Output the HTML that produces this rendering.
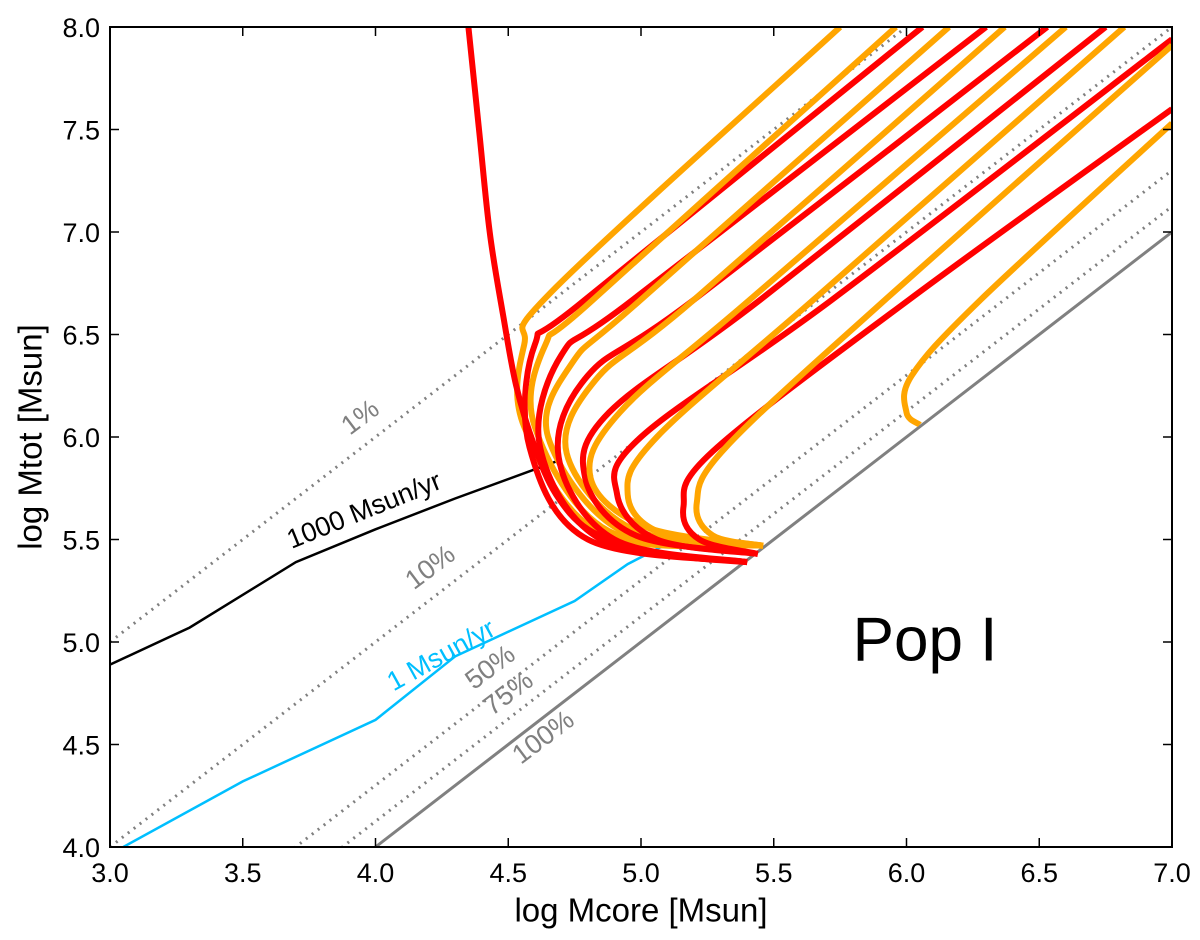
<!DOCTYPE html>
<html><head><meta charset="utf-8"><style>
html,body{margin:0;padding:0;background:#fff;overflow:hidden;width:1200px;height:940px;}
svg{display:block;overflow:hidden;font-family:"Liberation Sans","DejaVu Sans",sans-serif;}
</style></head><body>
<svg id="chart" width="1200" height="940" viewBox="0 0 1200 940">
<defs><clipPath id="pc"><rect x="110" y="27" width="1062" height="820"/></clipPath></defs>
<g id="plot" clip-path="url(#pc)"></g>
<g id="ann"></g>
<g id="axes"></g>
</svg>
<script>
const xTicks=[3.0,3.5,4.0,4.5,5.0,5.5,6.0,6.5,7.0];
const yTicks=[4.0,4.5,5.0,5.5,6.0,6.5,7.0,7.5,8.0];
const fractions=[0.01,0.1,0.5,0.75];
const fracLabels=["1%","10%","50%","75%"];
const rate1000=[[3.0,4.89],[3.3,5.07],[3.7,5.39],[4.0,5.55],[4.3,5.70],[4.68,5.88]];
const rate1=[[3.05,4.0],[3.5,4.32],[4.0,4.62],[4.3,4.93],[4.75,5.20],[4.95,5.38],[5.1,5.48]];
const envelope=[[4.35,8.0],[4.39,7.5],[4.43,7.0],[4.48,6.6],[4.53,6.25],[4.6,5.95],[4.68,5.72],[4.8,5.55],[5.0,5.45],[5.2,5.41],[5.40,5.39]];
const redTracks=[
 [[5.40,5.39],[4.8,5.5],[4.58,5.95],[4.6,6.45],[4.79,6.67],[6.06,8.0]],
 [[5.40,5.39],[4.85,5.5],[4.62,5.95],[4.7,6.4],[4.97,6.67],[6.30,8.0]],
 [[5.40,5.39],[4.9,5.5],[4.69,5.9],[4.8,6.3],[5.2,6.67],[6.53,8.0]],
 [[5.44,5.43],[4.98,5.52],[4.79,5.8],[4.88,6.12],[5.45,6.67],[6.75,8.0]],
 [[5.44,5.43],[5.06,5.5],[4.91,5.72],[5.0,6.0],[5.72,6.67],[7.0,7.94]],
 [[5.44,5.43],[5.22,5.5],[5.16,5.66],[5.27,5.93],[6.01,6.67],[7.0,7.60]]
];
const orangeTracks=[
 [[5.46,5.47],[4.85,5.53],[4.56,6.05],[4.56,6.45],[4.68,6.73],[5.75,8.0]],
 [[5.46,5.47],[4.88,5.54],[4.6,6.05],[4.64,6.45],[4.82,6.67],[5.96,8.0]],
 [[5.46,5.47],[4.93,5.54],[4.65,6.0],[4.74,6.36],[5.0,6.67],[6.16,8.0]],
 [[5.46,5.47],[4.97,5.55],[4.72,5.92],[4.83,6.28],[5.2,6.67],[6.37,8.0]],
 [[5.46,5.47],[5.02,5.56],[4.81,5.8],[4.92,6.12],[5.41,6.67],[6.60,8.0]],
 [[5.46,5.47],[5.08,5.53],[4.95,5.72],[5.06,6.0],[5.65,6.67],[6.82,8.0]],
 [[5.46,5.47],[5.27,5.52],[5.21,5.68],[5.32,5.95],[5.92,6.67],[7.0,7.91]],
 [[6.05,6.06],[6.0,6.12],[6.02,6.3],[6.28,6.67],[7.0,7.53]]
];
const X0=110,X1=1172,Y0=847,Y1=27;
function sx(v){return X0+(v-3)/(7-3)*(X1-X0);}
function sy(v){return Y0-(v-4)/(8-4)*(Y0-Y1);}
const NS="http://www.w3.org/2000/svg";
function mk(tag,parent,attrs){const e=document.createElementNS(NS,tag);for(const k in attrs)e.setAttribute(k,attrs[k]);parent.appendChild(e);return e;}
function smooth(pts){
 const p=pts.map(d=>[sx(d[0]),sy(d[1])]);
 let s="M"+p[0][0].toFixed(1)+","+p[0][1].toFixed(1);
 for(let i=0;i<p.length-1;i++){
  const p0=p[i-1]||p[i],p1=p[i],p2=p[i+1],p3=p[i+2]||p2;
  const c1=[p1[0]+(p2[0]-p0[0])/6,p1[1]+(p2[1]-p0[1])/6];
  const c2=[p2[0]-(p3[0]-p1[0])/6,p2[1]-(p3[1]-p1[1])/6];
  s+=" C"+c1.map(v=>v.toFixed(1)).join(",")+" "+c2.map(v=>v.toFixed(1)).join(",")+" "+p2.map(v=>v.toFixed(1)).join(",");
 }
 return s;
}
function poly(pts){return pts.map((d,i)=>(i?"L":"M")+sx(d[0]).toFixed(1)+","+sy(d[1]).toFixed(1)).join(" ");}
const plot=document.getElementById('plot');
fractions.forEach((f,i)=>{
 const off=Math.log10(1/f);
 const e=mk('line',plot,{x1:sx(3),y1:sy(3+off),x2:sx(7),y2:sy(7+off),stroke:'#808080','stroke-width':3,'stroke-dasharray':'2,5.5'});
 
 
});
const full=mk('line',plot,{x1:sx(4),y1:sy(4),x2:sx(7),y2:sy(7),stroke:'#808080','stroke-width':3});


const l1000=mk('path',plot,{d:poly(rate1000),fill:'none',stroke:'#000','stroke-width':2.5});


const l1=mk('path',plot,{d:poly(rate1),fill:'none',stroke:'#00bfff','stroke-width':2.5});


const order=[];
for(let i=0;i<8;i++){ if(orangeTracks[i])order.push(['o',i]); if(redTracks[i])order.push(['r',i]); }
order.forEach(([c,i])=>{
 const pts=c==='o'?orangeTracks[i]:redTracks[i];
 const e=mk('path',plot,{d:smooth(pts),fill:'none',stroke:c==='o'?'#ffa500':'#ff0000','stroke-width':6,'stroke-linecap':'butt'});
 
 
});
const env=mk('path',plot,{d:smooth(envelope),fill:'none',stroke:'#ff0000','stroke-width':6});


const ax=document.getElementById('axes');
const frame=mk('rect',ax,{x:X0,y:Y1,width:X1-X0,height:Y0-Y1,fill:'none',stroke:'#000','stroke-width':2});


xTicks.forEach(v=>{
 const x=sx(v);
 mk('line',ax,{x1:x,y1:Y0,x2:x,y2:Y0-9,stroke:'#000','stroke-width':1.5});
 mk('line',ax,{x1:x,y1:Y1,x2:x,y2:Y1+9,stroke:'#000','stroke-width':1.5});
 const t=mk('text',ax,{x:x,y:Y0+35,'text-anchor':'middle','font-size':27,fill:'#000'});
 t.textContent=v.toFixed(1);
 
 
});
yTicks.forEach(v=>{
 const y=sy(v);
 mk('line',ax,{x1:X0,y1:y,x2:X0+9,y2:y,stroke:'#000','stroke-width':1.5});
 mk('line',ax,{x1:X1,y1:y,x2:X1-9,y2:y,stroke:'#000','stroke-width':1.5});
 const t=mk('text',ax,{x:X0-10,y:y+10,'text-anchor':'end','font-size':27,fill:'#000'});
 t.textContent=v.toFixed(1);
 
 
});
const ann=document.getElementById('ann');
function lab(txt,x,y,rot,size,color,name){
 const t=document.createElementNS(NS,'text');
 t.setAttribute('x',x);t.setAttribute('y',y);t.setAttribute('text-anchor','middle');t.setAttribute('dominant-baseline','central');
 t.setAttribute('font-size',size);t.setAttribute('fill',color);
 t.setAttribute('transform','rotate('+rot+' '+x+' '+y+')');
 t.textContent=txt;
 
 
 ann.appendChild(t);
}
lab("1%",360,417,-37,27,'#808080','label-1pct');
lab("10%",430,567,-37,27,'#808080','label-10pct');
lab("50%",490,667,-37,27,'#808080','label-50pct');
lab("75%",508,693,-37,27,'#808080','label-75pct');
lab("100%",543,737,-37,27,'#808080','label-100pct');
lab("1000 Msun/yr",364,510,-22,27,'#000','label-1000-msun-yr');
lab("1 Msun/yr",441,655,-29,27,'#00bfff','label-1-msun-yr');
lab("Pop I",925,640,0,62,'#000','pop-label');
lab("log Mcore [Msun]",641,910,0,33,'#000','x-axis-title');
lab("log Mtot [Msun]",30,437,-90,33,'#000','y-axis-title');
</script>
</body></html>
